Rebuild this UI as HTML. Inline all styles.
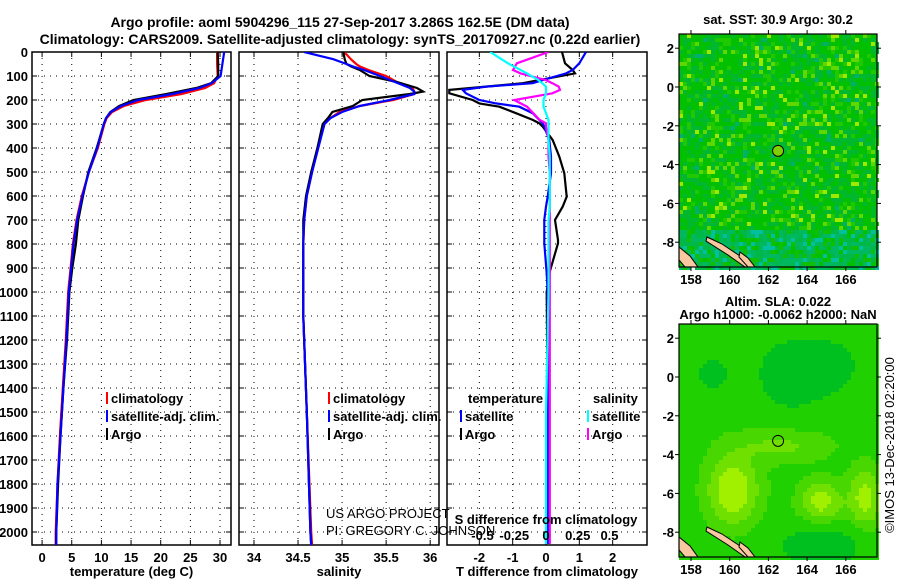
<!DOCTYPE html>
<html><head><meta charset="utf-8">
<style>
body{margin:0;background:#fff;}
svg{display:block;font-family:"Liberation Sans",sans-serif;font-weight:bold;}
</style></head>
<body>
<svg id="chart" width="900" height="580" viewBox="0 0 900 580">
<g id="titles">
<text x="340" y="27" font-size="14" text-anchor="middle">Argo profile: aoml 5904296_115 27-Sep-2017 3.286S 162.5E (DM data)</text>
<text x="340" y="44" font-size="14" text-anchor="middle">Climatology: CARS2009. Satellite-adjusted climatology: synTS_20170927.nc (0.22d earlier)</text>
</g>
<g id="plots"></g>
<g id="maps"></g>
</svg>
<script>
// ---- data ----
const depthTicks=[0,100,200,300,400,500,600,700,800,900,1000,1100,1200,1300,1400,1500,1600,1700,1800,1900,2000];
const tTicks=[0,5,10,15,20,25,30];
const sTicks=[34,34.5,35,35.5,36];
const dTTicks=[-2,-1,0,1,2];
const dSTicks=[-0.5,-0.25,0,0.25,0.5];
const tempDepth=[0,50,100,130,150,175,200,225,250,275,300,400,500,600,700,800,900,1000,1200,1400,1600,1800,2000,2055];
const tempArgo=[29.6,29.7,29.7,28.5,26,21,15.4,13,11.5,10.8,10.4,9.2,7.8,6.9,6.1,5.7,5.1,4.6,4.2,3.6,3.1,2.7,2.4,2.35];
const tempClim=[29.5,29.5,29.6,29.0,27.5,23.5,17.5,13.8,11.8,10.9,10.5,9.4,7.9,6.7,5.8,5.2,4.8,4.4,4.0,3.5,3.0,2.6,2.3,2.3];
const tempSat=[30.7,30.4,30.1,28.6,26.5,22.0,16.2,13.3,11.6,10.8,10.4,9.3,7.9,6.8,5.9,5.3,4.9,4.5,4.1,3.6,3.1,2.6,2.4,2.4];
const salDepth=[0,10,30,50,60,75,100,125,150,165,175,200,225,250,275,300,400,500,600,700,800,1100,1500,2000,2055];
const salArgo=[35.02,35.02,35.03,35.05,35.1,35.2,35.31,35.62,35.85,35.92,35.77,35.23,35.12,34.89,34.84,34.78,34.72,34.65,34.59,34.56,34.56,34.56,34.6,34.64,34.65];
const salClim=[35.02,35.05,35.1,35.16,35.2,35.3,35.5,35.62,35.8,35.82,35.82,35.58,35.2,34.97,34.87,34.8,34.72,34.66,34.6,34.57,34.56,34.56,34.6,34.65,34.66];
const salSat=[34.57,34.68,34.9,35.05,35.12,35.25,35.43,35.6,35.77,35.82,35.82,35.54,35.2,35.0,34.87,34.8,34.73,34.66,34.6,34.57,34.56,34.56,34.6,34.64,34.65];
const difDepth=[0,47,75,89,117,130,144,158,172,200,214,228,255,283,297,311,367,436,505,603,644,700,783,797,922,1000,1500,2050];
const dTArgo=[0.48,0.57,0.8,0.87,-0.2,-0.7,-1.8,-2.9,-2.9,-2.2,-2.0,-1.4,-0.9,-0.4,-0.2,-0.1,0.2,0.4,0.55,0.62,0.5,0.27,0.36,0.36,0.1,0.02,0.05,0.05];
const dTSat=[1.2,1.0,0.8,0.6,-0.1,-0.4,-1.8,-2.5,-2.4,-2.0,-1.5,-0.8,-0.4,-0.2,-0.1,-0.05,0.1,0.15,0.15,0.05,0,-0.05,-0.05,-0.05,0.02,0.05,0.05,0.05];
const dSSat=[-0.44,-0.3,-0.2,-0.15,-0.06,-0.03,0,0,0,-0.02,-0.02,-0.02,0.0,0.02,0.02,0.02,0.02,0.03,0.03,0.03,0.03,0.02,0.02,0.02,0.02,0.02,0.0,0.0];
const dSArgo=[0.02,-0.23,-0.26,-0.2,0.0,0.05,0.1,0.11,0.05,-0.25,-0.2,-0.15,-0.1,-0.05,0,0,0.02,0.02,0.03,0.03,0.03,0.03,0.03,0.03,0.03,0.03,0.03,0.03];
const lonTicks=[158,160,162,164,166];
const latTicks=[2,0,-2,-4,-6,-8];

const NS="http://www.w3.org/2000/svg";
function mk(tag,attrs,parent,txt){const e=document.createElementNS(NS,tag);for(const k in attrs)e.setAttribute(k,attrs[k]);if(txt!==undefined)e.textContent=txt;parent.appendChild(e);return e;}
const plots=document.getElementById('plots');
const yTop=52, pxPerM=0.24, yBot=545;
const yS=d=>yTop+d*pxPerM;
const panels=[
 {x0:32,x1:231,xmin:-1.7,xmax:31.85,ticks:tTicks,label:'temperature (deg C)',name:'temperature-panel'},
 {x0:239,x1:439,xmin:33.83,xmax:36.1,ticks:sTicks,label:'salinity',name:'salinity-panel'},
 {x0:447,x1:647,xmin:-2.97,xmax:3.03,ticks:dTTicks,label:'T difference from climatology',name:'difference-panel'}
];
panels.forEach((p,i)=>{
 p.xs=v=>p.x0+(v-p.xmin)/(p.xmax-p.xmin)*(p.x1-p.x0);
 const g=mk('g',{},plots);
 
 
 depthTicks.forEach(d=>{
  const l=mk('line',{x1:p.x0,x2:p.x1,y1:yS(d),y2:yS(d),stroke:'#000','stroke-width':1,'stroke-dasharray':'1 5'},g);
  
  
  mk('line',{x1:p.x0,x2:p.x0+5,y1:yS(d),y2:yS(d),stroke:'#000'},g);
  mk('line',{x1:p.x1-5,x2:p.x1,y1:yS(d),y2:yS(d),stroke:'#000'},g);
  if(i===0){const t=mk('text',{x:28,y:yS(d)+5,'font-size':13,'text-anchor':'end'},g,String(d));
   
   }
 });
 p.ticks.forEach(v=>{
  const x=p.xs(v);
  mk('line',{x1:x,x2:x,y1:yTop,y2:yBot,stroke:'#000','stroke-dasharray':'1 5'},g);
  mk('line',{x1:x,x2:x,y1:yBot,y2:yBot-5,stroke:'#000'},g);
  mk('line',{x1:x,x2:x,y1:yTop,y2:yTop+5,stroke:'#000'},g);
  const t=mk('text',{x:x,y:yBot+17,'font-size':13,'text-anchor':'middle'},g,String(v));
  
  
 });
 const r=mk('rect',{x:p.x0,y:yTop,width:p.x1-p.x0,height:yBot-yTop,fill:'none',stroke:'#000','stroke-width':1.5},g);
 
 
 const lab=mk('text',{x:(p.x0+p.x1)/2,y:576,'font-size':13,'text-anchor':'middle'},g,p.label);
 
 
 p.g=g;
});
function line(p,depths,vals,color,name,xsF){
 const xs=xsF||p.xs;
 const pts=depths.map((d,i)=>xs(vals[i]).toFixed(1)+','+yS(d).toFixed(1)).join(' ');
 const pl=mk('polyline',{points:pts,fill:'none',stroke:color,'stroke-width':2.2,'clip-path':'url(#clip'+panels.indexOf(p)+')'},p.g);
 
 
}
const defs=mk('defs',{},document.getElementById('chart'));
panels.forEach((p,i)=>{const c=mk('clipPath',{id:'clip'+i},defs);mk('rect',{x:p.x0,y:yTop,width:p.x1-p.x0,height:yBot-yTop},c);});
line(panels[0],tempDepth,tempClim,'#f00','temperature-climatology-line');
line(panels[0],tempDepth,tempArgo,'#000','temperature-argo-line');
line(panels[0],tempDepth,tempSat,'#00f','temperature-satellite-line');
line(panels[1],salDepth,salClim,'#f00','salinity-climatology-line');
line(panels[1],salDepth,salArgo,'#000','salinity-argo-line');
line(panels[1],salDepth,salSat,'#00f','salinity-satellite-line');
const p3=panels[2];
const sXs=v=>546+v*127;
line(p3,difDepth,dTArgo,'#000','t-diff-argo-line');
line(p3,difDepth,dTSat,'#00f','t-diff-satellite-line');
line(p3,difDepth,dSArgo,'#f0f','s-diff-argo-line',sXs);
line(p3,difDepth,dSSat,'#0ff','s-diff-satellite-line',sXs);
mk('text',{x:546,y:524,'font-size':13,'text-anchor':'middle'},p3.g,'S difference from climatology');
dSTicks.forEach(v=>{const t=mk('text',{x:sXs(v),y:540,'font-size':13,'text-anchor':'middle'},p3.g,String(v));
 
 });
function legend(parent,x,y,items){items.forEach((it,i)=>{
 const g=mk('g',{},parent);
 
 
 if(it[1])mk('rect',{x:x,y:y+i*18-11,width:2,height:12,fill:it[1]},g);
 mk('text',{x:x+(it[1]?5:0),y:y+i*18,'font-size':13},g,it[0]);});}
legend(panels[0].g,106,403,[['climatology','#f00'],['satellite-adj. clim.','#00f'],['Argo','#000']]);
legend(panels[1].g,328,403,[['climatology','#f00'],['satellite-adj. clim.','#00f'],['Argo','#000']]);
legend(p3.g,468,403,[['temperature',null]]);
legend(p3.g,460,421,[['satellite','#00f'],['Argo','#000']]);
legend(p3.g,593,403,[['salinity',null]]);
legend(p3.g,587,421,[['satellite','#0ff'],['Argo','#f0f']]);
const cr=mk('g',{'font-weight':'normal','font-size':13},panels[1].g);


mk('text',{x:326,y:518,'font-weight':'normal'},cr,'US ARGO PROJECT');
mk('text',{x:326,y:535,'font-weight':'normal'},cr,'PI: GREGORY C. JOHNSON');

// ---- maps ----
const maps=document.getElementById('maps');
function hash(a,b,s){let h=(a*374761393+b*668265263+s*982451653)|0;h=(h^(h>>>13))*1274126177|0;return ((h^(h>>>16))>>>0)/4294967296;}
function blob(i,j,ci,cj,ri,rj){const a=(i-ci)/ri,b=(j-cj)/rj;return Math.exp(-(a*a+b*b));}
function drawMap(y0,kind,title1,title2){
 const x0=679,x1=877,y1=y0+233;
 const g=mk('g',{},maps);
 
 
 const lon=v=>691+(v-158)*19.35, lat0=y0+53, lat=v=>lat0-v*19.4;
 mk('rect',{x:x0,y:y0,width:x1-x0,height:y1-y0,fill:kind==='sst'?'#00c000':'#40d800'},g);
 const c=4;
 for(let i=0;i*c<x1-x0;i++)for(let j=0;j*c<y1-y0;j++){
  let col=null;
  if(kind==='sst'){const r=hash(i,j,1);
   if(j>48){col=r<0.35?'#00b860':r<0.6?'#00b848':r<0.7?'#00c0a0':r<0.85?'#10c000':null;}
   else col=r<0.3?'#00b830':r<0.42?'#20c800':r<0.5?'#60d800':r<0.54?'#a0e800':r<0.56?'#00b070':null;
   if(!col)continue;
  } else {
   const v=blob(i,j,13,41,6,8)*1.0+blob(i,j,35,44,5,5)*0.8+blob(i,j,46,43,4,7)*0.8+blob(i,j,25,30,12,4)*0.4
     -blob(i,j,28,12,8,8)*0.7-blob(i,j,38,10,6,6)*0.5-blob(i,j,35,55,10,5)*0.6-blob(i,j,8,12,5,5)*0.4;
   col=v>0.65?'#a0f000':v>0.35?'#70e000':v>0.1?'#48d800':v>-0.25?'#20d000':'#00c020';
   if(col==='#40d800')continue;
  }
  mk('rect',{x:x0+i*c,y:y0+j*c,width:c,height:c,fill:col},g);
 }
 [[[679,y0+213],[690,y0+222],[698,y0+233],[685,y0+233],[679,y0+226]],[[707,y0+203],[722,y0+210],[740,y0+222],[752,y0+233],[745,y0+233],[728,y0+221],[706,y0+207]],[[740,y0+218],[748,y0+224],[755,y0+233],[748,y0+233],[739,y0+223]]].forEach(pg=>{
  mk('polygon',{points:pg.map(p=>p.join(',')).join(' '),fill:'#f8c8a0',stroke:'#000','stroke-width':1},g);});
 mk('circle',{cx:lon(162.5),cy:lat(-3.29),r:5.5,fill:kind==='sst'?'#80d000':'none',stroke:'#000','stroke-width':1},g);
 mk('rect',{x:x0,y:y0,width:x1-x0,height:y1-y0,fill:'none',stroke:'#000','stroke-width':1.2},g);
 lonTicks.forEach(v=>{const x=lon(v);mk('line',{x1:x,x2:x,y1:y0,y2:y0-4,stroke:'#000'},g);mk('line',{x1:x,x2:x,y1:y1,y2:y1+4,stroke:'#000'},g);
  const t=mk('text',{x:x,y:y1+17,'font-size':13,'text-anchor':'middle'},g,String(v));
  
  });
 latTicks.forEach(v=>{const y=lat(v);mk('line',{x1:x0,x2:x0-4,y1:y,y2:y,stroke:'#000'},g);mk('line',{x1:x1,x2:x1+4,y1:y,y2:y,stroke:'#000'},g);
  const t=mk('text',{x:674,y:y+5,'font-size':13,'text-anchor':'end'},g,String(v));
  
  });
 const t1=mk('text',{x:778,y:title2?y0-18:y0-10,'font-size':13,'text-anchor':'middle'},g,title1);
 
 
 if(title2){const t2=mk('text',{x:778,y:y0-5,'font-size':13,'text-anchor':'middle'},g,title2);
  
  }
}
drawMap(34,'sst','sat. SST: 30.9 Argo: 30.2');
drawMap(324,'sla','Altim. SLA: 0.022','Argo h1000: -0.0062 h2000: NaN');
const im=mk('text',{x:894,y:445,'font-size':13,'font-weight':'normal','text-anchor':'middle',transform:'rotate(-90 894 445)'},maps,'©IMOS 13-Dec-2018 02:20:00');


</script>
</body></html>
